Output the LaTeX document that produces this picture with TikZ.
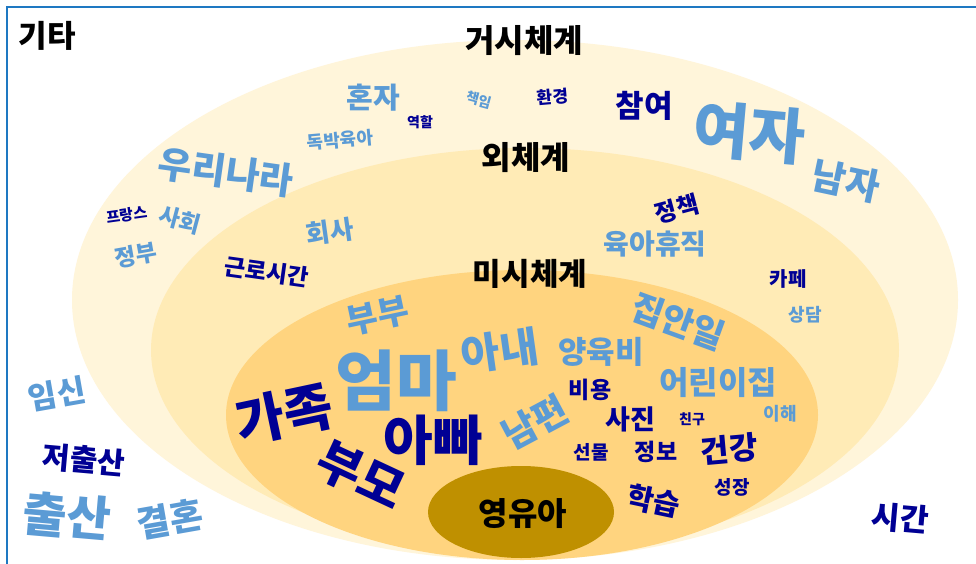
\documentclass[tikz,border=0pt]{standalone}
\usepackage{fontspec}
\setmainfont{Noto Sans CJK KR}
\newcommand\wsz[1]{\fontsize{#1}{#1}\selectfont\bfseries}
\definecolor{wblue}{HTML}{5B9BD5}
\definecolor{wnavy}{HTML}{000094}
\definecolor{framec}{HTML}{1E78C2}
\definecolor{ring1}{HTML}{FFF5DA}
\definecolor{ring2}{HTML}{FFEBB6}
\definecolor{ring3}{HTML}{FFD47F}
\definecolor{coref}{HTML}{BF9000}
\tikzset{
  word/.style={inner sep=0pt, anchor=center},
  bl/.style={word, text=wblue},
  nv/.style={word, text=wnavy},
  bk/.style={word, text=black},
  ring/.style={draw=none},
}
\begin{document}
\begin{tikzpicture}[x=1pt,y=-1pt]
\useasboundingbox (0,0) rectangle (976,564);
\clip (0,0) rectangle (976,564);
\fill[white] (0,0) rectangle (976,564);
% rings
\fill[ring, ring1] (515,300) ellipse [x radius=443, y radius=260];
\fill[ring, ring2] (525,350) ellipse [x radius=374, y radius=202];
\fill[ring, ring3] (522,415) ellipse [x radius=296, y radius=145];
\fill[ring, coref] (521,512) ellipse [x radius=93, y radius=46];
% frame
\draw[framec, line width=2.2pt] (7,7) rectangle (990,580);
% labels
\node[bk] (gita) at (47,36) {\wsz{31}기타};
\node[bk] (geosi) at (524,41) {\wsz{32}거시체계};
\node[bk] (oe) at (526,158) {\wsz{32}외체계};
\node[bk] (misi) at (530,274) {\wsz{31}미시체계};
\node[bk] (yeong) at (523,514) {\wsz{32}영유아};
% macro ring words
\node[bl, rotate=-8] (urinara) at (226,172) {\wsz{37}우리나라};
\node[bl] (honja) at (373,98) {\wsz{29}혼자};
\node[bl, rotate=5] (dokbak) at (340,140) {\wsz{18}독박육아};
\node[bl, rotate=-15] (chaegim) at (479,100) {\wsz{14}책임};
\node[nv] (yeokhal) at (420,122) {\wsz{14}역할};
\node[nv, rotate=5] (hwangyeong) at (553,97) {\wsz{17}환경};
\node[nv] (chamyeo) at (644,106) {\wsz{31}참여};
\node[bl, rotate=-5] (yeoja) at (749,133) {\wsz{61}여자};
\node[bl, rotate=-12] (namja) at (846,181) {\wsz{37}남자};
\node[nv, rotate=8] (france) at (127,215) {\wsz{15}프랑스};
\node[bl, rotate=-15] (sahoe) at (180,220) {\wsz{23}사회};
\node[bl, rotate=10] (jeongbu) at (136,255) {\wsz{23}정부};
% exo ring words
\node[bl, rotate=8] (hoesa) at (330,232) {\wsz{26}회사};
\node[nv, rotate=-8] (geunro) at (267,272) {\wsz{23}근로시간};
\node[nv, rotate=15] (jeongchaek) at (677,209) {\wsz{24}정책};
\node[bl] (yukahyujik) at (655,244) {\wsz{28}육아휴직};
\node[nv] (kape) at (788,279) {\wsz{20}카페};
\node[bl] (sangdam) at (805,315) {\wsz{18}상담};
% micro ring words
\node[bl, rotate=12] (bubu) at (378,316) {\wsz{34}부부};
\node[bl] (eomma) at (396,381) {\wsz{66}엄마};
\node[bl, rotate=8] (anae) at (500,351) {\wsz{42}아내};
\node[bl] (yangyukbi) at (601,352) {\wsz{31}양육비};
\node[bl, rotate=-20] (jibanil) at (678,322) {\wsz{35}집안일};
\node[bl] (eorinijip) at (718,383) {\wsz{32}어린이집};
\node[nv] (biyong) at (590,390) {\wsz{23}비용};
\node[bl, rotate=28] (nampyeon) at (535,422) {\wsz{37}남편};
\node[nv, rotate=12] (gajok) at (284,414) {\wsz{53}가족};
\node[nv] (appa) at (433,440) {\wsz{54}아빠};
\node[nv] (sajin) at (630,419) {\wsz{27}사진};
\node[nv] (chingu) at (692,419) {\wsz{14}친구};
\node[bl] (ihae) at (780,414) {\wsz{18}이해};
\node[nv] (seonmul) at (591,452) {\wsz{19}선물};
\node[nv] (jeongbo) at (656,452) {\wsz{23}정보};
\node[nv, rotate=5] (geongang) at (729,449) {\wsz{31}건강};
\node[nv] (seongjang) at (732,487) {\wsz{19}성장};
\node[nv, rotate=-12] (hakseup) at (654,501) {\wsz{29}학습};
\node[nv, rotate=-25] (bumo) at (361,476) {\wsz{49}부모};
% other words
\node[bl, rotate=10] (imsin) at (57,394) {\wsz{31}임신};
\node[nv, rotate=-5] (jeochulsan) at (84,460) {\wsz{30}저출산};
\node[bl, rotate=-5] (chulsan) at (67,516) {\wsz{48}출산};
\node[bl, rotate=10] (gyeolhon) at (170,519) {\wsz{36}결혼};
\node[nv, rotate=-5] (sigan) at (900,518) {\wsz{31}시간};
\end{tikzpicture}
\end{document}
